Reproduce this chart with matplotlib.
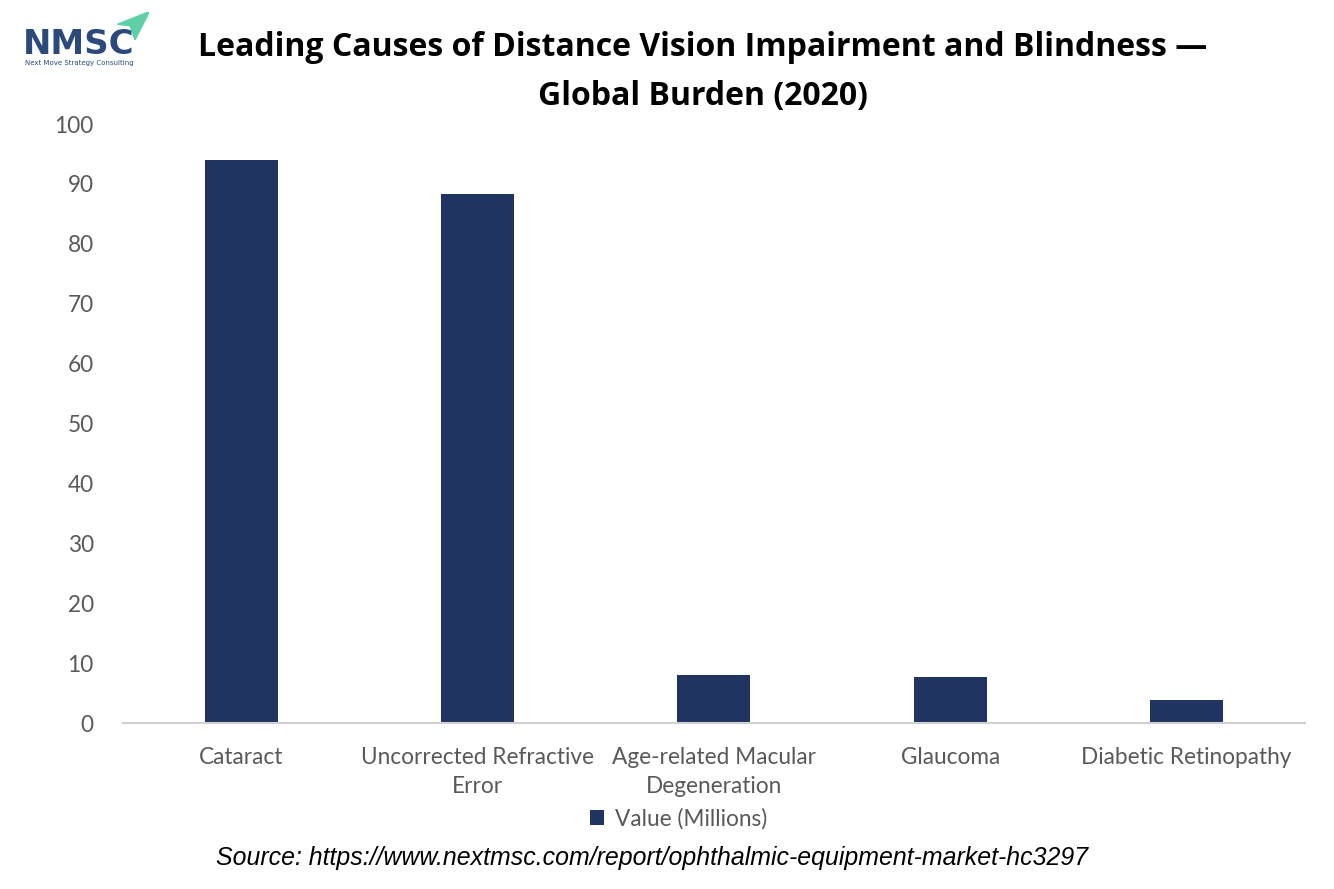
import matplotlib.pyplot as plt
import numpy as np

# data (millions of people)
causes = ["Cataract", "Uncorrected Refractive\nError", "Age-related Macular\nDegeneration",
          "Glaucoma", "Diabetic Retinopathy"]
values = [94, 88.4, 8, 7.7, 3.9]
yticks = [0, 10, 20, 30, 40, 50, 60, 70, 80, 90, 100]

bar_color = "#1f3460"
text_gray = "#595959"

fig = plt.figure(figsize=(13.34, 8.89), dpi=100)
ax = fig.add_axes([0.0922, 0.1867, 0.8858, 0.6738])

x = np.arange(len(causes))
ax.bar(x, values, width=0.31, color=bar_color, label="Value (Millions)")

ax.set_xlim(-0.5, len(causes) - 0.5)
ax.set_ylim(0, 100)
ax.set_yticks(yticks)
ax.set_xticks(x)
ax.set_xticklabels(causes, fontsize=16.3, color=text_gray, family="Lato", linespacing=1.5)
for t in ax.get_yticklabels():
    t.set_fontsize(16.3)
    t.set_color(text_gray)
    t.set_family("Lato")
ax.tick_params(axis="both", length=0)
ax.tick_params(axis="y", pad=21)
ax.tick_params(axis="x", pad=17)
for s in ["top", "right", "left"]:
    ax.spines[s].set_visible(False)
ax.spines["bottom"].set_color("#d0d0d0")
ax.spines["bottom"].set_linewidth(1.5)

# title
fig.text(0.527, 0.919, "Leading Causes of Distance Vision Impairment and Blindness \u2014\nGlobal Burden (2020)",
         ha="center", va="center", fontsize=23, fontweight="bold", family="Open Sans",
         linespacing=1.62, color="black")

# legend
leg = fig.legend(loc="center", bbox_to_anchor=(0.509, 0.079), frameon=False,
                 handlelength=0.6, handleheight=0.6, handletextpad=0.5,
                 prop={"family": "Lato", "size": 16.3})
for t in leg.get_texts():
    t.set_color(text_gray)

# source line
fig.text(0.489, 0.035, "Source: https://www.nextmsc.com/report/ophthalmic-equipment-market-hc3297",
         ha="center", va="center", fontsize=17.9, style="italic", family="Liberation Sans")

# logo
fig.text(0.017, 0.950, "NMSC", fontsize=24.5, fontweight="bold", family="DejaVu Sans",
         color="#2b4a7c", ha="left", va="center")
fig.text(0.019, 0.929, "Next Move Strategy Consulting", fontsize=5, color="#2b4a7c",
         ha="left", va="center")
logo = fig.add_axes([0.088, 0.955, 0.024, 0.032])
logo.fill([0, 1, 0.55, 0.4], [0.55, 1, 0, 0.5], color="#5fcfa8")
logo.set_xlim(0, 1)
logo.set_ylim(0, 1)
logo.axis("off")

fig.savefig("out.png", dpi=100)
